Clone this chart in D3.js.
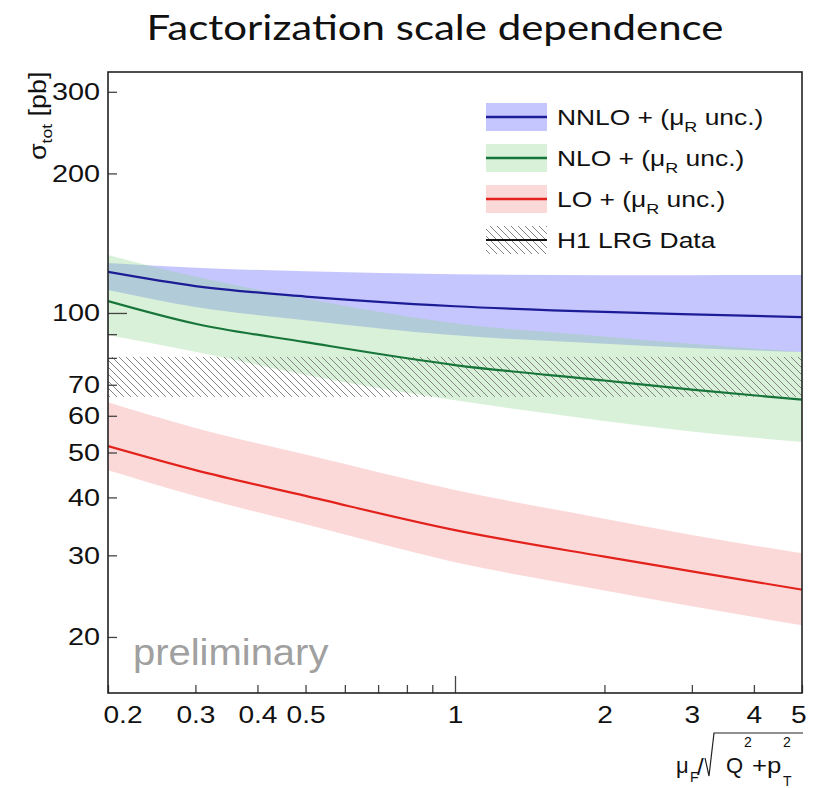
<!DOCTYPE html>
<html>
<head>
<meta charset="utf-8">
<script src="https://cdn.jsdelivr.net/npm/d3@7"></script>
<style>
  body { margin: 0; background: #fff; }
  svg { display: block; }
  text { font-family: "Liberation Sans", Arial, sans-serif; fill: #111; }
</style>
</head>
<body>
<svg width="817" height="788"></svg>
<script>
// values
let muF = [0.2, 0.3, 0.5, 1, 2, 3, 5]
let nnloCentral = [122.6, 114.3, 108.5, 103.4, 100.5, 99.3, 98.0]
let nnloUp = [128.2, 125.2, 123.0, 121.2, 120.6, 120.6, 120.8]
let nnloDown = [112.1, 103.0, 96.5, 89.5, 85.8, 84.0, 82.4]
let nloCentral = [106.1, 94.8, 86.5, 77.2, 71.5, 68.3, 65.0]
let nloUp = [133.4, 119.8, 107.5, 95.0, 89.0, 85.8, 82.4]
let nloDown = [89.6, 82.5, 73.5, 64.8, 58.5, 55.5, 52.7]
let loCentral = [51.6, 45.8, 40.3, 34.0, 29.8, 27.7, 25.3]
let loUp = [64.2, 56.5, 49.5, 41.5, 36.0, 33.2, 30.3]
let loDown = [45.8, 40.3, 35.0, 29.0, 25.2, 23.3, 21.2]
let h1Band = [65.9, 80.4]

let xTicks = [0.2, 0.3, 0.4, 0.5, 0.6, 0.7, 0.8, 0.9, 1, 2, 3, 4, 5]
let xLabels = [0.2, 0.3, 0.4, 0.5, 1, 2, 3, 4, 5]
let yTicks = [20, 30, 40, 50, 60, 70, 80, 90, 100, 200, 300]
let yLabels = [20, 30, 40, 50, 60, 70, 100, 200, 300]

let legendNames = ['NNLO', 'NLO', 'LO']

let padLeft = 108, padRight = 802, padTop = 72, padBottom = 693
let stretch = 1.17

let svg = d3.select('svg')

let x = d3.scaleLog().domain([0.2, 5]).range([padLeft, padRight])
let y = d3.scaleLog().domain([15.14, 331]).range([padBottom, padTop])

let defs = svg.append('defs')
defs.append('clipPath').attr('id', 'plotclip')
    .append('rect')
    .attr('x', padLeft).attr('y', padTop)
    .attr('width', padRight - padLeft).attr('height', padBottom - padTop)

let hatch = defs.append('pattern')
    .attr('id', 'hatch')
    .attr('patternUnits', 'userSpaceOnUse')
    .attr('width', 7).attr('height', 7)
hatch.append('path')
    .attr('d', 'M-1,-1 L8,8 M-4,3 L4,11 M3,-4 L11,4')
    .attr('stroke', '#858585')
    .attr('stroke-width', 1)

let series = [
    { name: 'NNLO', c: nnloCentral, up: nnloUp, down: nnloDown, fill: 'rgba(120,120,255,0.42)', line: '#1c1c96' },
    { name: 'NLO', c: nloCentral, up: nloUp, down: nloDown, fill: 'rgba(140,215,140,0.34)', line: '#17753a' },
    { name: 'LO', c: loCentral, up: loUp, down: loDown, fill: 'rgba(245,150,150,0.36)', line: '#e3221c' }
]

let area = d3.area()
    .x((d) => x(d[0]))
    .y0((d) => y(d[1]))
    .y1((d) => y(d[2]))
    .curve(d3.curveMonotoneX)

let line = d3.line()
    .x((d) => x(d[0]))
    .y((d) => y(d[1]))
    .curve(d3.curveMonotoneX)

let plot = svg.append('g').attr('clip-path', 'url(#plotclip)')

// bands first, blue -> green, then data hatch, then red
series.slice(0, 2).forEach((s) => {
    plot.append('path')
        .datum(muF.map((m, i) => [m, s.down[i], s.up[i]]))
        .attr('d', area)
        .attr('fill', s.fill)
})

plot.append('rect')
    .attr('x', x(0.2))
    .attr('width', x(5) - x(0.2))
    .attr('y', y(h1Band[1]))
    .attr('height', y(h1Band[0]) - y(h1Band[1]))
    .attr('fill', 'url(#hatch)')

plot.append('path')
    .datum(muF.map((m, i) => [m, loDown[i], loUp[i]]))
    .attr('d', area)
    .attr('fill', series[2].fill)

series.forEach((s) => {
    plot.append('path')
        .datum(muF.map((m, i) => [m, s.c[i]]))
        .attr('d', line)
        .attr('fill', 'none')
        .attr('stroke', s.line)
        .attr('stroke-width', 2.2)
})

// axes
let yAxis = svg.append('g')
    .attr('transform', `translate(${padLeft},0)`)
    .call(d3.axisLeft(y)
        .tickValues(yTicks)
        .tickSize(-9)
        .tickPadding(8)
        .tickFormat((d) => yLabels.includes(d) ? d : ''))
yAxis.select('.domain').remove()
yAxis.selectAll('.tick line')
    .attr('stroke', '#444')
    .attr('stroke-width', 1.3)
    .attr('x2', (d) => d === 100 ? 19 : 9)
yAxis.selectAll('.tick text')
    .attr('font-size', 24)
    .attr('x', -8 / 1.2)
    .attr('transform', 'scale(1.2,1)')

let xAxis = svg.append('g')
    .attr('transform', `translate(0,${padBottom})`)
    .call(d3.axisBottom(x)
        .tickValues(xTicks)
        .tickSize(-8)
        .tickPadding(13)
        .tickFormat((d) => xLabels.includes(d) ? d : ''))
xAxis.select('.domain').remove()
xAxis.selectAll('.tick line')
    .attr('stroke', '#444')
    .attr('stroke-width', 1.3)
    .attr('y2', (d) => d === 1 ? -17 : -8)
xAxis.selectAll('.tick text')
    .attr('font-size', 24)
    .attr('transform', `scale(${stretch},1)`)
    .attr('text-anchor', (d) => d === 0.2 ? 'start' : d === 5 ? 'end' : 'middle')
    .attr('x', (d) => d === 0.2 ? -5 / stretch : d === 5 ? 4 / stretch : 0)

// frame
svg.append('rect')
    .attr('x', padLeft).attr('y', padTop)
    .attr('width', padRight - padLeft).attr('height', padBottom - padTop)
    .attr('fill', 'none')
    .attr('stroke', '#222')
    .attr('stroke-width', 1.6)

// title
svg.append('text')
    .attr('transform', `translate(435,40) scale(1.2,1)`)
    .attr('text-anchor', 'middle')
    .style('font-family', 'Lato, "Open Sans", sans-serif')
    .attr('font-size', 35)
    .text('Factorization scale dependence')

// preliminary
svg.append('text')
    .attr('transform', 'translate(133,665) scale(1.08,1)')
    .attr('font-size', 37)
    .style('fill', '#a0a0a0')
    .text('preliminary')

// y title
let yt = svg.append('text')
    .attr('transform', `translate(46,160) rotate(-90) scale(${stretch},1)`)
    .attr('font-size', 23)
yt.append('tspan').text('σ')
yt.append('tspan').attr('dy', 6).attr('font-size', 15).text('tot')
yt.append('tspan').attr('dy', -6).text(' [pb]')

// x title
let xt = svg.append('g')
xt.append('text').attr('x', 676).attr('y', 773).attr('font-size', 22).text('μ')
xt.append('text').attr('x', 690).attr('y', 782).attr('font-size', 14).text('F')
xt.append('text').attr('x', 697).attr('y', 775).attr('font-size', 24).text('/')
xt.append('path')
    .attr('d', 'M705,758 L709,776 L714,733 L803,733')
    .attr('fill', 'none')
    .attr('stroke', '#222')
    .attr('stroke-width', 1.2)
xt.append('text').attr('x', 726).attr('y', 773).attr('font-size', 22).text('Q')
xt.append('text').attr('x', 744).attr('y', 747).attr('font-size', 14).text('2')
xt.append('text').attr('transform', `translate(752,773) scale(${stretch},1)`).attr('font-size', 22).text('+p')
xt.append('text').attr('x', 783).attr('y', 747).attr('font-size', 14).text('2')
xt.append('text').attr('x', 783).attr('y', 786).attr('font-size', 14).text('T')

// legend
let legendY = [117, 158, 199, 240]
let legend = svg.append('g')
series.forEach((s, i) => {
    let g = legend.append('g').attr('transform', `translate(0,${legendY[i]})`)
    g.append('rect')
        .attr('x', 486).attr('y', -14)
        .attr('width', 61).attr('height', 28)
        .attr('fill', s.fill)
    g.append('line')
        .attr('x1', 486).attr('x2', 547)
        .attr('stroke', s.line)
        .attr('stroke-width', 2.4)
    let t = g.append('text')
        .attr('transform', `translate(557,8) scale(1.2,1)`)
        .attr('font-size', 22)
    t.append('tspan').text(legendNames[i] + ' + (μ')
    t.append('tspan').attr('dy', 7).attr('font-size', 15).text('R')
    t.append('tspan').attr('dy', -7).text(' unc.)')
})
let h1 = legend.append('g').attr('transform', `translate(0,${legendY[3]})`)
h1.append('rect')
    .attr('x', 486).attr('y', -14)
    .attr('width', 61).attr('height', 28)
    .attr('fill', 'url(#hatch)')
h1.append('line')
    .attr('x1', 486).attr('x2', 547)
    .attr('stroke', '#111')
    .attr('stroke-width', 2)
h1.append('text')
    .attr('transform', `translate(557,8) scale(1.2,1)`)
    .attr('font-size', 22)
    .text('H1 LRG Data')
</script>
</body>
</html>
